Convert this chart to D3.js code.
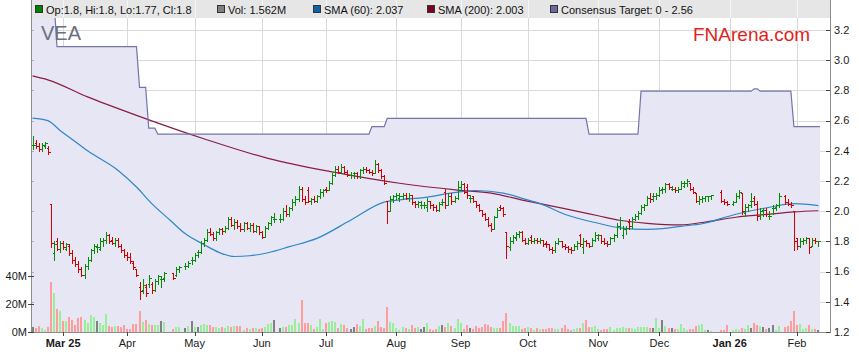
<!DOCTYPE html>
<html><head><meta charset="utf-8">
<script src="https://cdn.jsdelivr.net/npm/d3@7"></script>
<style>html,body{margin:0;padding:0;background:#fff;}svg{display:block;font-family:"Liberation Sans",Arial,sans-serif;}</style>
</head><body><svg id="c" width="859" height="363"></svg>
<script>
// ---------- DATA ----------
const firstDay = "2025-02-17", lastDay = "2026-02-11";
// one entry per weekday (null = exchange holiday): [open, high, low, close]
const ohlc = [
[2.44,2.50,2.41,2.44],[2.45,2.47,2.42,2.43],[2.43,2.45,2.40,2.41],[2.41,2.45,2.40,2.44],[2.43,2.46,2.42,2.45],[2.42,2.43,2.38,2.39],[2.05,2.05,1.76,1.79],[1.72,1.80,1.68,1.78],[1.80,1.82,1.74,1.75],[1.75,1.80,1.73,1.79],
[1.79,1.80,1.75,1.76],[1.75,1.79,1.74,1.78],[1.77,1.78,1.71,1.72],[1.72,1.74,1.66,1.68],[1.68,1.70,1.64,1.65],[1.65,1.67,1.60,1.62],[1.62,1.63,1.57,1.58],[1.58,1.65,1.56,1.64],[1.64,1.70,1.62,1.68],[1.68,1.75,1.67,1.74],
[1.74,1.78,1.72,1.77],[1.76,1.78,1.73,1.76],[1.75,1.82,1.74,1.80],[1.80,1.82,1.77,1.81],[1.81,1.86,1.79,1.84],[1.84,1.85,1.79,1.80],[1.81,1.83,1.78,1.79],[1.79,1.82,1.77,1.81],[1.81,1.82,1.76,1.77],[1.77,1.78,1.73,1.74],
[1.74,1.75,1.70,1.71],[1.71,1.73,1.68,1.70],[1.70,1.72,1.66,1.67],[1.66,1.67,1.62,1.63],[1.62,1.62,1.57,1.58],[1.50,1.53,1.42,1.47],[1.48,1.55,1.46,1.51],[1.50,1.52,1.44,1.46],[1.52,1.58,1.50,1.56],[1.52,1.53,1.46,1.48],
[1.48,1.55,1.47,1.54],[1.54,1.58,1.52,1.57],[1.55,1.57,1.50,1.55],[1.56,1.60,1.54,1.59],null,null,[1.59,1.59,1.55,1.56],[1.58,1.63,1.57,1.62],[1.62,1.64,1.60,1.63],null,
[1.64,1.66,1.62,1.64],[1.64,1.67,1.63,1.66],[1.68,1.70,1.65,1.68],[1.68,1.72,1.67,1.71],[1.73,1.74,1.70,1.73],[1.73,1.80,1.72,1.79],[1.79,1.82,1.77,1.81],[1.81,1.88,1.80,1.86],[1.86,1.89,1.84,1.85],[1.85,1.86,1.81,1.82],
[1.82,1.87,1.81,1.86],[1.86,1.89,1.85,1.88],[1.88,1.89,1.85,1.87],[1.87,1.90,1.86,1.89],[1.89,1.96,1.88,1.95],[1.95,1.96,1.90,1.91],[1.91,1.95,1.88,1.93],[1.93,1.94,1.89,1.90],[1.90,1.92,1.87,1.88],[1.88,1.93,1.87,1.92],
[1.92,1.93,1.88,1.89],[1.89,1.92,1.87,1.91],[1.91,1.92,1.86,1.87],[1.87,1.91,1.86,1.90],[1.90,1.90,1.85,1.86],[1.86,1.87,1.82,1.83],[1.83,1.90,1.83,1.89],[1.89,1.93,1.88,1.92],[1.92,1.97,1.91,1.96],[1.95,1.99,1.93,1.95],
null,[1.95,1.98,1.93,1.95],[1.95,2.02,1.94,2.00],[2.00,2.04,1.97,1.98],[1.98,2.03,1.97,2.02],[2.02,2.08,2.01,2.06],[2.06,2.10,2.04,2.08],[2.08,2.17,2.07,2.15],[2.15,2.16,2.07,2.08],[2.08,2.10,2.05,2.06],
[2.14,2.16,2.06,2.07],[2.07,2.09,2.05,2.08],[2.08,2.10,2.06,2.07],[2.07,2.11,2.06,2.10],[2.10,2.15,2.09,2.13],[2.13,2.15,2.10,2.14],[2.15,2.16,2.13,2.14],[2.14,2.20,2.14,2.19],[2.19,2.25,2.18,2.24],[2.24,2.30,2.23,2.28],
[2.28,2.30,2.25,2.26],[2.26,2.31,2.25,2.29],[2.29,2.30,2.25,2.26],[2.26,2.27,2.23,2.24],[2.24,2.26,2.22,2.24],[2.25,2.26,2.22,2.25],[2.25,2.26,2.22,2.23],[2.23,2.28,2.22,2.27],[2.27,2.29,2.25,2.28],[2.28,2.29,2.26,2.27],
[2.27,2.28,2.25,2.26],[2.26,2.27,2.24,2.25],[2.25,2.34,2.25,2.31],[2.31,2.32,2.26,2.27],[2.27,2.28,2.22,2.23],[2.23,2.24,2.18,2.19],[2.07,2.07,1.92,2.00],[2.00,2.10,2.00,2.08],[2.08,2.11,2.06,2.10],[2.10,2.12,2.08,2.11],
[2.09,2.12,2.07,2.10],[2.10,2.12,2.08,2.11],[2.11,2.12,2.08,2.09],[2.09,2.12,2.07,2.11],[2.11,2.11,2.05,2.06],[2.06,2.07,2.03,2.05],[2.05,2.07,2.03,2.06],[2.04,2.07,2.02,2.04],[2.04,2.06,2.02,2.04],[2.03,2.09,2.00,2.07],
[2.07,2.07,2.02,2.04],[2.04,2.05,2.01,2.03],[2.03,2.04,2.00,2.01],[2.01,2.06,2.00,2.05],[2.06,2.08,2.04,2.06],[2.13,2.15,2.02,2.04],[2.04,2.12,2.04,2.10],[2.10,2.12,2.05,2.07],[2.07,2.10,2.06,2.09],[2.09,2.20,2.08,2.16],
[2.16,2.20,2.14,2.18],[2.18,2.19,2.12,2.13],[2.16,2.18,2.09,2.11],[2.09,2.11,2.06,2.09],[2.10,2.10,2.06,2.07],[2.07,2.07,2.03,2.04],[2.04,2.05,2.00,2.01],[2.01,2.01,1.97,1.98],[1.98,1.99,1.94,1.95],[1.95,1.96,1.90,1.91],
[1.91,1.92,1.87,1.88],[1.88,1.97,1.88,1.96],[1.96,2.02,1.96,2.01],[2.03,2.04,2.01,2.02],[2.02,2.03,1.97,1.98],[1.86,1.86,1.69,1.77],[1.76,1.83,1.74,1.80],[1.80,1.84,1.79,1.83],[1.82,1.86,1.81,1.85],[1.85,1.87,1.83,1.86],
[1.86,1.87,1.80,1.81],[1.81,1.82,1.78,1.79],[1.79,1.82,1.78,1.81],[1.83,1.84,1.79,1.80],[1.80,1.82,1.79,1.81],[1.81,1.82,1.79,1.80],[1.80,1.82,1.79,1.81],[1.81,1.81,1.77,1.78],[1.79,1.80,1.76,1.78],[1.78,1.78,1.74,1.75],
[1.75,1.76,1.72,1.74],[1.74,1.80,1.73,1.79],[1.79,1.82,1.78,1.80],[1.80,1.80,1.76,1.77],[1.77,1.78,1.75,1.76],[1.76,1.77,1.73,1.75],[1.75,1.76,1.72,1.74],[1.74,1.78,1.74,1.77],[1.77,1.80,1.75,1.79],[1.84,1.85,1.77,1.78],
[1.76,1.82,1.72,1.80],[1.80,1.81,1.77,1.79],[1.79,1.79,1.76,1.77],[1.77,1.82,1.77,1.81],[1.81,1.86,1.80,1.84],[1.82,1.85,1.81,1.84],[1.84,1.84,1.79,1.80],[1.80,1.82,1.78,1.79],[1.79,1.80,1.77,1.78],[1.78,1.83,1.78,1.82],
[1.82,1.85,1.80,1.84],[1.84,1.92,1.83,1.90],[1.90,1.96,1.88,1.94],[1.84,1.90,1.82,1.88],[1.88,1.90,1.85,1.89],[1.93,1.95,1.88,1.90],[1.90,1.96,1.89,1.95],[1.95,1.98,1.94,1.97],[1.97,2.00,1.95,1.99],[1.99,2.04,1.98,2.03],
[2.03,2.05,2.01,2.04],[2.04,2.10,2.04,2.09],[2.09,2.12,2.06,2.08],[2.10,2.12,2.07,2.10],[2.10,2.12,2.08,2.11],[2.11,2.16,2.10,2.14],[2.15,2.16,2.12,2.15],[2.15,2.19,2.13,2.18],[2.18,2.19,2.15,2.16],[2.15,2.17,2.14,2.15],
[2.15,2.16,2.13,2.14],[2.14,2.16,2.13,2.15],[2.15,2.20,2.15,2.19],[2.17,2.20,2.16,2.19],[2.19,2.21,2.17,2.20],[2.19,2.19,2.14,2.15],[2.15,2.16,2.12,2.13],[2.12,2.12,2.06,2.07],[2.07,2.10,2.05,2.08],[2.08,2.10,2.06,2.09],
[2.09,2.10,2.07,2.10],[2.10,2.10,2.07,2.10],[2.10,2.11,2.08,2.11],null,null,[2.13,2.14,2.06,2.07],[2.07,2.08,2.05,2.06],[2.06,2.07,2.04,2.05],null,[2.05,2.07,2.04,2.06],
[2.06,2.12,2.06,2.10],[2.10,2.14,2.09,2.13],[2.12,2.12,1.98,2.00],[1.99,2.05,1.97,2.03],[2.03,2.05,2.00,2.04],[2.07,2.12,2.03,2.07],[2.09,2.10,2.04,2.05],[2.05,2.07,1.94,1.97],[1.97,2.02,1.95,2.00],[2.01,2.02,1.97,2.01],
[2.01,2.02,1.97,1.98],[1.97,2.00,1.95,1.97],[2.02,2.04,1.98,2.02],[2.03,2.05,2.01,2.04],[2.04,2.12,2.03,2.10],null,[2.10,2.11,2.05,2.06],[2.06,2.08,2.04,2.05],[2.05,2.06,2.03,2.04],[2.00,2.00,1.74,1.80],
[1.82,1.82,1.75,1.77],[1.77,1.82,1.76,1.80],[1.80,1.82,1.78,1.81],[1.81,1.83,1.79,1.82],[1.82,1.82,1.72,1.76],[1.77,1.82,1.77,1.81],[1.81,1.82,1.79,1.80],[1.80,1.80,1.77,1.80]
];
// volume in millions, one per weekday
const volumes = [
3.8,2.6,4.3,2.9,1.7,3.6,35.7,27.8,16.4,15.0,
7.9,7.9,10.7,8.6,5.2,10.2,10.5,8.6,6.4,12.1,
10.7,7.9,6.2,5.2,13.1,4.0,3.6,4.0,4.5,3.8,
5.0,2.4,2.4,5.7,5.7,15.0,7.1,8.6,5.7,5.0,
5.0,5.0,7.6,7.1,null,null,2.1,3.6,3.6,null,
2.9,4.3,7.9,3.6,3.6,4.8,5.7,5.2,4.8,3.6,
3.6,2.9,3.6,2.9,4.3,3.6,4.3,4.5,4.3,1.7,
2.6,1.9,2.9,2.9,2.4,3.1,3.8,5.5,6.7,8.6,
null,2.6,3.6,3.3,5.0,4.8,9.0,6.7,22.8,6.7,
6.7,5.0,2.1,3.6,9.3,2.1,6.7,7.4,7.9,7.4,
2.9,6.0,5.0,2.9,2.1,3.6,5.7,4.0,9.3,2.1,
2.9,2.9,4.3,8.1,3.6,2.9,18.0,7.1,6.7,2.9,
1.4,3.6,2.9,2.1,5.0,2.9,3.6,2.1,3.6,6.4,
2.1,1.4,2.1,4.3,5.0,3.6,6.4,4.3,2.9,9.3,
6.4,2.1,5.0,2.9,2.1,4.3,2.9,3.6,5.7,5.0,
3.6,2.9,2.9,2.9,7.9,13.8,6.4,4.3,4.3,4.3,
2.1,2.9,3.6,2.9,1.4,2.9,2.1,2.1,2.1,2.9,
2.9,2.1,2.1,2.9,5.0,2.1,1.4,2.1,2.9,2.9,
6.4,8.6,3.6,3.6,4.3,2.1,1.4,2.1,2.1,3.6,
1.4,2.9,2.9,3.6,2.9,2.9,2.9,2.1,3.6,3.6,
3.6,3.6,2.9,2.9,10.0,2.9,8.6,4.3,2.9,2.9,
2.1,2.1,5.7,2.9,1.4,2.1,2.1,4.3,5.0,5.7,
1.4,1.4,0.7,null,null,1.4,1.4,5.0,null,1.4,
2.1,1.4,2.9,2.1,5.0,2.9,6.4,5.0,4.3,3.6,
2.1,2.9,5.0,1.4,4.3,null,3.6,4.3,7.9,15.0,
5.0,5.7,2.1,2.9,5.0,2.1,2.1,1.562
];
const sma60 = [
["2025-02-17",2.617],["2025-02-24",2.60],["2025-02-28",2.535],["2025-03-06",2.475],["2025-03-13",2.40],
["2025-03-27",2.27],["2025-04-04",2.16],["2025-04-11",2.05],["2025-04-21",1.94],["2025-04-28",1.85],
["2025-05-06",1.78],["2025-05-13",1.727],["2025-05-20",1.70],["2025-05-27",1.705],["2025-06-04",1.725],
["2025-06-13",1.765],["2025-06-26",1.82],["2025-07-11",1.94],["2025-07-28",2.06],["2025-08-04",2.075],
["2025-08-14",2.09],["2025-08-29",2.126],["2025-09-08",2.137],["2025-09-19",2.12],["2025-09-30",2.08],
["2025-10-07",2.05],["2025-10-17",1.98],["2025-11-03",1.92],["2025-11-12",1.89],["2025-11-25",1.88],
["2025-12-02",1.885],["2025-12-10",1.90],["2025-12-19",1.917],["2026-01-05",1.98],["2026-01-20",2.026],
["2026-01-30",2.05],["2026-02-11",2.037]
];
const sma200 = [
["2025-02-17",2.896],["2025-02-24",2.87],["2025-03-13",2.757],["2025-04-04",2.635],["2025-05-06",2.48],
["2025-06-04",2.35],["2025-07-03",2.26],["2025-08-04",2.185],["2025-08-29",2.14],["2025-09-15",2.12],
["2025-09-30",2.07],["2025-10-07",2.05],["2025-10-17",2.017],["2025-11-03",1.97],["2025-11-12",1.94],
["2025-11-25",1.92],["2025-12-10",1.91],["2025-12-19",1.925],["2026-01-05",1.96],["2026-01-20",1.98],
["2026-01-30",1.995],["2026-02-11",2.003]
];
// consensus target: value takes effect from the given day
const targetSteps = [
["2025-02-17",3.40],["2025-02-27",3.09],["2025-04-07",2.82],["2025-04-10",2.55],["2025-04-15",2.51],
["2025-07-22",2.56],["2025-07-29",2.615],["2025-10-29",2.51],["2025-11-21",2.795],["2026-01-13",2.81],
["2026-01-15",2.795],["2026-01-30",2.56]
];
const monthTicks = [
["2025-03-03","Mar 25",true],["2025-04-01","Apr",false],["2025-05-01","May",false],["2025-06-02","Jun",false],
["2025-07-01","Jul",false],["2025-08-01","Aug",false],["2025-09-01","Sep",false],["2025-10-01","Oct",false],
["2025-11-03","Nov",false],["2025-12-01","Dec",false],["2026-01-01","Jan 26",true],["2026-02-02","Feb",false]
];
const priceTicks = [1.2,1.4,1.6,1.8,2.0,2.2,2.4,2.6,2.8,3.0,3.2];
const volTicks = [0,20,40];
const legendItems = [
 {label:"Op:1.8, Hi:1.8, Lo:1.77, Cl:1.8", color:"#008000"},
 {label:"Vol: 1.562M", color:"#808080"},
 {label:"SMA (60): 2.037", color:"#0a64a8"},
 {label:"SMA (200): 2.003", color:"#800020"},
 {label:"Consensus Target: 0 - 2.56", color:"#6a6aa0"}
];
const ticker = "VEA", brand = "FNArena.com";

// ---------- CHART ----------
const svg = d3.select("#c");
const L = 31, R = 830, T = 18, B = 332;
const parse = d3.utcParse("%Y-%m-%d"), fmt = d3.utcFormat("%Y-%m-%d");
const days = d3.utcDays(parse(firstDay), d3.utcDay.offset(parse(lastDay), 1))
  .filter(d => d.getUTCDay() !== 0 && d.getUTCDay() !== 6);
const dayIndex = new Map(days.map((d, i) => [fmt(d), i]));
const x = d3.scaleLinear().domain([-0.5, 260.8]).range([L, R]);
const y = d3.scaleLinear().domain([1.2, 3.2]).range([B, 30]);
const yv = d3.scaleLinear().domain([0, 40]).range([B, 276]);

svg.append("defs").append("clipPath").attr("id", "plot")
  .append("rect").attr("x", L).attr("y", T).attr("width", R - L).attr("height", B - T);

// legend band
svg.append("rect").attr("x", L).attr("y", 0).attr("width", R - L).attr("height", T).attr("fill", "#e6e6e6");
svg.append("g").selectAll("line").data(monthTicks).join("line")
  .attr("x1", d => Math.round(x(dayIndex.get(d[0]))) + 0.5).attr("x2", d => Math.round(x(dayIndex.get(d[0]))) + 0.5)
  .attr("y1", 0).attr("y2", T).attr("stroke", "#f6f6f6");

// plot background & grid
svg.append("rect").attr("x", L).attr("y", T).attr("width", R - L).attr("height", B - T).attr("fill", "#fff");
const grid = svg.append("g").attr("stroke", "#d9d9d9").attr("shape-rendering", "crispEdges");
grid.selectAll("line.h").data(priceTicks).join("line").attr("class", "h")
  .attr("x1", L).attr("x2", R).attr("y1", d => Math.round(y(d)) + 0.5).attr("y2", d => Math.round(y(d)) + 0.5);
grid.selectAll("line.v").data(monthTicks).join("line").attr("class", "v")
  .attr("x1", d => Math.round(x(dayIndex.get(d[0]))) + 0.5).attr("x2", d => Math.round(x(dayIndex.get(d[0]))) + 0.5)
  .attr("y1", T).attr("y2", B);

// consensus target
const stepIdx = targetSteps.map(s => [dayIndex.get(s[0]), s[1]]);
function targetAt(i) { let v = stepIdx[0][1]; for (const s of stepIdx) if (s[0] <= i) v = s[1]; return v; }
const tPts = days.map((d, i) => ({ i, v: targetAt(i) }));
tPts.unshift({ i: x.domain()[0], v: tPts[0].v });
tPts.push({ i: days.length - 0.5, v: tPts[tPts.length - 1].v });
const plot = svg.append("g").attr("clip-path", "url(#plot)");
plot.append("path").datum(tPts)
  .attr("d", d3.area().x(d => x(d.i)).y0(B).y1(d => y(d.v)))
  .attr("fill", "#e6e6f5");

// small left ticks at price levels
svg.append("g").selectAll("line").data(priceTicks).join("line")
  .attr("x1", L).attr("x2", L + 3).attr("y1", d => Math.round(y(d)) + 0.5).attr("y2", d => Math.round(y(d)) + 0.5)
  .attr("stroke", "#b0b0b0");

// volume bars
const vData = volumes.map((v, i) => ({ i, v, bar: ohlc[i] })).filter(d => d.v != null && d.bar);
plot.append("g").attr("shape-rendering", "crispEdges").selectAll("rect").data(vData).join("rect")
  .attr("x", d => Math.round(x(d.i)) - 1).attr("width", 2)
  .attr("y", d => yv(d.v)).attr("height", d => B - yv(d.v))
  .attr("fill", d => d.bar[3] > d.bar[0] ? "#99ee99" : d.bar[3] < d.bar[0] ? "#ff9c9c" : "#808080");

// SMAs
const smaLine = d3.line().x(d => x(dayIndex.get(d[0]))).y(d => y(d[1])).curve(d3.curveMonotoneX);
plot.append("path").datum(sma200).attr("d", smaLine).attr("fill", "none").attr("stroke", "#8c1c44").attr("stroke-width", 1.2);
plot.append("path").datum(sma60).attr("d", smaLine).attr("fill", "none").attr("stroke", "#2f86c8").attr("stroke-width", 1.2);

// target line
plot.append("path").datum(tPts).attr("d", d3.line().x(d => x(d.i)).y(d => y(d.v)))
  .attr("fill", "none").attr("stroke", "#7474ad").attr("stroke-width", 1.2);

// OHLC bars
const bars = ohlc.map((b, i) => ({ i, b })).filter(d => d.b);
plot.append("g").attr("shape-rendering", "crispEdges").selectAll("path").data(bars).join("path")
  .attr("d", d => {
    const cx = Math.round(x(d.i)) + 0.5, [o, h, l, c] = d.b;
    const yo = Math.round(y(o)) + 0.5, yc = Math.round(y(c)) + 0.5;
    return `M${cx},${Math.round(y(h))}V${Math.round(y(l)) + 1}M${cx - 2},${yo}H${cx}M${cx},${yc}H${cx + 2}`;
  })
  .attr("fill", "none").attr("stroke-width", 1)
  .attr("stroke", d => d.b[3] >= d.b[0] ? "#078a07" : "#d40000");

// axes
const ax = svg.append("g").attr("stroke", "#8c8c8c").attr("shape-rendering", "crispEdges");
ax.append("line").attr("x1", L + 0.5).attr("x2", L + 0.5).attr("y1", 0).attr("y2", B);
ax.append("line").attr("x1", R + 0.5).attr("x2", R + 0.5).attr("y1", 0).attr("y2", B);
ax.append("line").attr("x1", L).attr("x2", R + 1).attr("y1", B + 0.5).attr("y2", B + 0.5);
ax.selectAll("line.rt").data(priceTicks).join("line").attr("class", "rt")
  .attr("x1", R - 4).attr("x2", R).attr("y1", d => Math.round(y(d)) + 0.5).attr("y2", d => Math.round(y(d)) + 0.5)
  .attr("stroke", "#444");
ax.selectAll("line.lt").data(volTicks).join("line").attr("class", "lt")
  .attr("x1", L - 3).attr("x2", L + 3).attr("y1", d => Math.round(yv(d)) + 0.5).attr("y2", d => Math.round(yv(d)) + 0.5)
  .attr("stroke", "#444");
ax.selectAll("line.bt").data(monthTicks).join("line").attr("class", "bt")
  .attr("x1", d => Math.round(x(dayIndex.get(d[0]))) + 0.5).attr("x2", d => Math.round(x(dayIndex.get(d[0]))) + 0.5)
  .attr("y1", B).attr("y2", B + 4).attr("stroke", "#444");

const txt = svg.append("g").attr("font-size", 11).attr("fill", "#1a1a1a");
txt.selectAll("text.r").data(priceTicks).join("text").attr("class", "r")
  .attr("x", R + 4).attr("y", d => y(d)).attr("dy", "0.35em").text(d => d.toFixed(1));
txt.selectAll("text.l").data(volTicks).join("text").attr("class", "l")
  .attr("x", L - 4).attr("y", d => yv(d)).attr("dy", "0.35em").attr("text-anchor", "end").text(d => d + "M");
txt.selectAll("text.b").data(monthTicks).join("text").attr("class", "b")
  .attr("x", d => x(dayIndex.get(d[0]))).attr("y", B + 15).attr("text-anchor", "middle")
  .attr("font-weight", d => d[2] ? "bold" : "normal").text(d => d[1]);

// legend
const legX = [35, 217, 313, 427, 550];
const lg = svg.append("g").attr("font-size", 11).attr("fill", "#111");
legendItems.forEach((it, k) => {
  lg.append("rect").attr("x", legX[k] + 0.5).attr("y", 5.5).attr("width", 7).attr("height", 7)
    .attr("fill", it.color).attr("stroke", "#333");
  lg.append("text").attr("x", legX[k] + 11).attr("y", 14).text(it.label);
});

// titles
svg.append("text").attr("x", 41).attr("y", 40).attr("font-size", 20).attr("fill", "#6b6f7e").text(ticker);
svg.append("text").attr("x", 693).attr("y", 41).attr("font-size", 19).attr("fill", "#e3231b").text(brand);
</script></body></html>
